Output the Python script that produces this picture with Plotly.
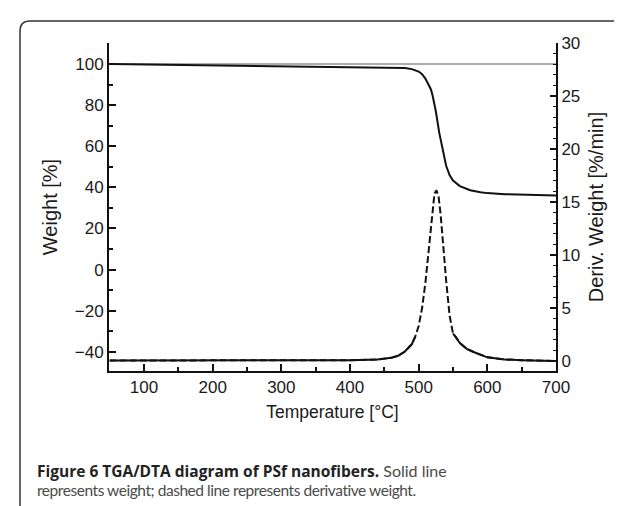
import plotly.graph_objects as go

# ---- data ----
temp_w = [50, 100, 200, 300, 400, 450, 480, 490, 500, 505, 510, 515, 518, 520, 525,
          530, 535, 540, 545, 550, 560, 575, 590, 600, 625, 650, 675, 700]
weight = [100.0, 99.8, 99.4, 99.0, 98.6, 98.4, 98.0, 97.5, 96.3, 95.0, 92.8, 89.5, 87.5,
          85.0, 77.0, 66.5, 57.5, 50.5, 46.0, 43.3, 40.6, 38.6, 37.6, 37.2, 36.7, 36.4, 36.2, 36.1]

temp_d = [50, 100, 200, 300, 400, 440, 460, 470, 480, 490, 495, 500, 505, 510, 515, 520,
          523, 526, 529, 532, 536, 540, 545, 550, 555, 560, 570, 580, 600, 625, 650, 675, 700]
deriv = [0.05, 0.05, 0.05, 0.05, 0.08, 0.15, 0.3, 0.5, 0.9, 1.6, 2.3, 3.3, 5.0, 7.5, 10.8, 14.2,
         15.8, 16.1, 15.5, 13.8, 10.5, 7.6, 4.3, 2.6, 2.2, 1.7, 1.15, 0.85, 0.35, 0.15, 0.08, 0.04, 0.0]

x_ticks = [100, 200, 300, 400, 500, 600, 700]
y_ticks = [-40, -20, 0, 20, 40, 60, 80, 100]
y2_ticks = [0, 5, 10, 15, 20, 25, 30]
ref_weight = 100

caption_bold = "Figure 6 TGA/DTA diagram of PSf nanofibers."
caption_rest1 = " Solid line"
caption_line2 = "represents weight; dashed line represents derivative weight."

# ---- layout geometry (pixels) ----
W, H = 622, 506
ML, MR, MT, MB = 101, 74, 35, 143
PW, PH = W - ML - MR, H - MT - MB


def px(x):
    return (x - ML) / PW


def py(y):
    return (H - MB - y) / PH


TICK_FONT = dict(family="Liberation Sans, Arial, sans-serif", size=17, color="#1a1a1a")
YTITLE_FONT = dict(family="Liberation Sans, Arial, sans-serif", size=20, color="#1a1a1a")
XTITLE_FONT = dict(family="Liberation Sans, Arial, sans-serif", size=17.5, color="#1a1a1a")

fig = go.Figure()

# derivative: dashed where steep, solid where flat
fig.add_trace(go.Scatter(x=temp_d, y=deriv, yaxis="y2", mode="lines",
                         line=dict(color="#111", width=2, dash="7px,3px"),
                         hoverinfo="skip", showlegend=False))
deriv_flat = [v if v <= 3 else None for v in deriv]
fig.add_trace(go.Scatter(x=temp_d, y=deriv_flat, yaxis="y2", mode="lines",
                         line=dict(color="#111", width=2), connectgaps=False,
                         hoverinfo="skip", showlegend=False))

fig.add_hline(y=ref_weight, line=dict(color="#5a5a5a", width=1.2), layer="below")

fig.add_trace(go.Scatter(x=temp_w, y=weight, mode="lines",
                         line=dict(color="#111", width=2), showlegend=False))

axis_common = dict(showgrid=False, zeroline=False, showline=True, linecolor="#111",
                   linewidth=2, ticks="inside", tickcolor="#111", tickwidth=1.5,
                   tickfont=TICK_FONT)

fig.update_layout(
    width=W, height=H,
    margin=dict(l=ML, r=MR, t=MT, b=MB, autoexpand=False),
    paper_bgcolor="white", plot_bgcolor="white",
    xaxis=dict(range=[49, 700], tickvals=x_ticks, ticklen=7,
               minor=dict(dtick=50, tick0=0, ticklen=4, ticks="inside", tickcolor="#111", tickwidth=1.5),
               title=dict(text="Temperature [°C]", font=XTITLE_FONT, standoff=9),
               **axis_common),
    yaxis=dict(range=[-49.3, 110.2], tickvals=y_ticks, ticklen=7,
               minor=dict(dtick=10, tick0=0, ticklen=4, ticks="inside", tickcolor="#111", tickwidth=1.5),
               title=dict(text="Weight [%]", font=YTITLE_FONT, standoff=12),
               **axis_common),
    yaxis2=dict(range=[-0.94, 30], tickvals=y2_ticks, ticklen=6, overlaying="y", side="right",
                minor=dict(dtick=1, tick0=0, ticklen=3, ticks="inside", tickcolor="#111", tickwidth=1.2),
                title=dict(text="Deriv. Weight [%/min]", font=YTITLE_FONT, standoff=10),
                **axis_common),
)

# rounded figure frame (top-left corner)
fx, fy, r = 12, 13, 10
path = (f"M {px(fx)},{py(H + 5)} L {px(fx)},{py(fy + r)} "
        f"Q {px(fx)},{py(fy)} {px(fx + r)},{py(fy)} L {px(W + 5)},{py(fy)}")
fig.add_shape(type="path", path=path, xref="paper", yref="paper",
              line=dict(color="#333", width=1.5))

REG1 = "font-family:Lato, Open Sans, sans-serif;font-weight:normal;font-size:16px;color:#4a4a4a"
REG2 = ("font-family:Lato, Open Sans, sans-serif;font-weight:normal;font-size:15.5px;"
        "letter-spacing:-0.45px;color:#4a4a4a")
line1 = f"<b>{caption_bold}</b><span style='{REG1}'>{caption_rest1}</span>"
line2 = f"<span style='{REG2}'>{caption_line2}</span>"
CAP_FONT = dict(family="Open Sans, Noto Sans, sans-serif", size=15.5, color="#222")
fig.add_annotation(text=line1, xref="paper", yref="paper", x=px(27), y=py(463),
                   xanchor="left", yanchor="middle", align="left", showarrow=False, font=CAP_FONT)
fig.add_annotation(text=line2, xref="paper", yref="paper", x=px(27), y=py(482),
                   xanchor="left", yanchor="middle", align="left", showarrow=False, font=CAP_FONT)

fig.write_html("out.html")
